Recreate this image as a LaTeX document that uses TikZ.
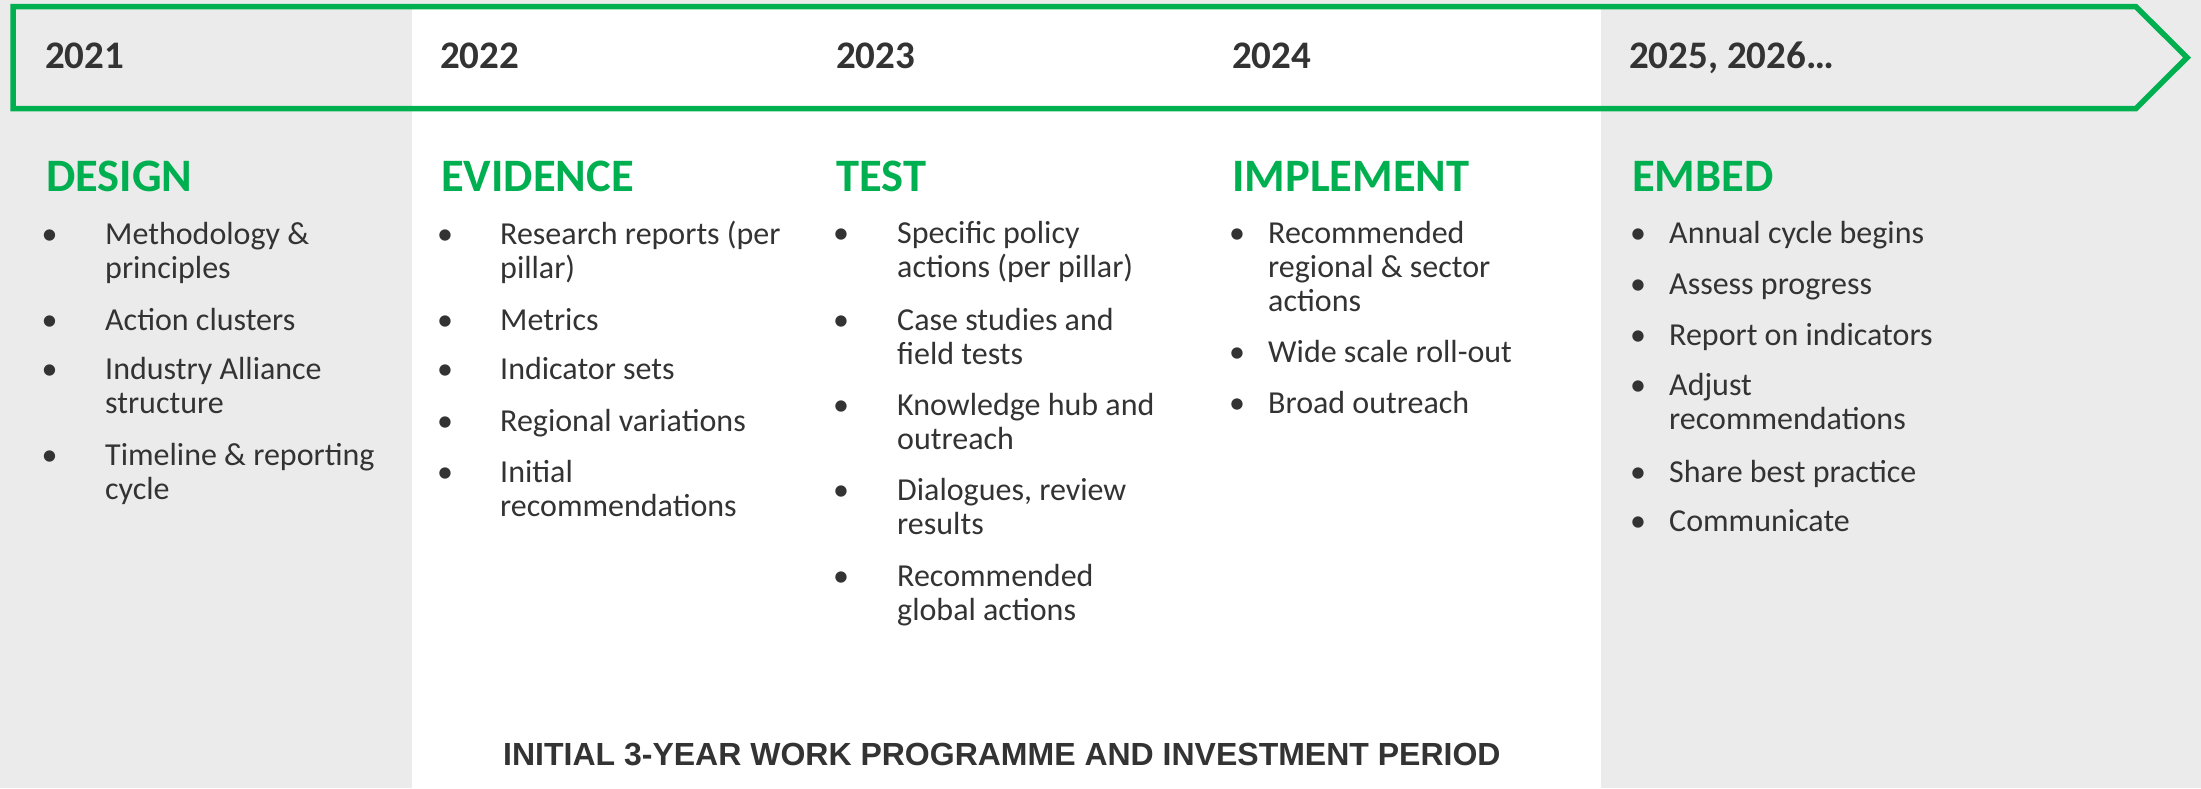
\documentclass[tikz,border=0pt]{standalone}
\usepackage{fontspec}
\setmainfont{Carlito}
\newfontfamily\arialfont{Liberation Sans}
\definecolor{grn}{HTML}{00B050}
\definecolor{txt}{HTML}{333333}
\definecolor{bgg}{HTML}{EBEBEB}
\begin{document}
\begin{tikzpicture}[x=1bp,y=-1bp,
  yearlbl/.style={anchor=base west, inner sep=0pt, text=txt, font=\fontsize{39bp}{42bp}\selectfont\bfseries},
  phasehead/.style={anchor=base west, inner sep=0pt, text=grn, font=\fontsize{46.5bp}{50bp}\selectfont\bfseries},
  bul/.style={anchor=base, inner sep=0pt, text=txt, font=\fontsize{32bp}{34bp}\selectfont},
  itm/.style={anchor=base west, inner sep=0pt, text=txt, align=left, font=\fontsize{32bp}{34bp}\selectfont},
  itmtwo/.style={itm, yshift=-34bp},
  itmthree/.style={itm, yshift=-68bp},
  footlbl/.style={anchor=base west, inner sep=0pt, text=txt, font=\fontsize{32bp}{34bp}\selectfont\arialfont\bfseries},
  frame/.style={draw=grn, line width=5.5bp, line join=miter}
]
\useasboundingbox (0,0) rectangle (2201,788);
\fill[bgg] (0,0) rectangle (2201,788);
\fill[white] (411.7,6.7) rectangle (1601,788);
\draw[frame] (13,6.7) -- (2136,6.7) -- (2187,57.6) -- (2136,108.5) -- (13,108.5) -- cycle;

% years
\node[yearlbl] (y1) at (45,69) {2021};
\node[yearlbl] (y2) at (440,69) {2022};
\node[yearlbl] (y3) at (836,69) {2023};
\node[yearlbl] (y4) at (1232,69) {2024};
\node[yearlbl] (y5) at (1629,69) {2025, 2026…};

% headings
\node[phasehead] (h1) at (46,191) {DESIGN};
\node[phasehead] (h2) at (441,191) {EVIDENCE};
\node[phasehead] (h3) at (836,191) {TEST};
\node[phasehead] (h4) at (1232,191) {IMPLEMENT};
\node[phasehead] (h5) at (1632,191) {EMBED};

% column 1
\node[bul] (b1a) at (49.5,244) {•};
\node[itmtwo] (t1a) at (105,244) {Methodology \&\\principles};
\node[bul] (b1b) at (49.5,330) {•};
\node[itm] (t1b) at (105,330) {Action clusters};
\node[bul] (b1c) at (49.5,379) {•};
\node[itmtwo] (t1c) at (105,379) {Industry Alliance\\structure};
\node[bul] (b1d) at (49.5,465) {•};
\node[itmtwo] (t1d) at (105,465) {Timeline \& reporting\\cycle};

% column 2
\node[bul] (b2a) at (445,244) {•};
\node[itmtwo] (t2a) at (500,244) {Research reports (per\\pillar)};
\node[bul] (b2b) at (445,330) {•};
\node[itm] (t2b) at (500,330) {Metrics};
\node[bul] (b2c) at (445,379) {•};
\node[itm] (t2c) at (500,379) {Indicator sets};
\node[bul] (b2d) at (445,431) {•};
\node[itm] (t2d) at (500,431) {Regional variations};
\node[bul] (b2e) at (445,482) {•};
\node[itmtwo] (t2e) at (500,482) {Initial\\recommendations};

% column 3
\node[bul] (b3a) at (841,243) {•};
\node[itmtwo] (t3a) at (897,243) {Specific policy\\actions (per pillar)};
\node[bul] (b3b) at (841,330) {•};
\node[itmtwo] (t3b) at (897,330) {Case studies and\\field tests};
\node[bul] (b3c) at (841,415) {•};
\node[itmtwo] (t3c) at (897,415) {Knowledge hub and\\outreach};
\node[bul] (b3d) at (841,500) {•};
\node[itmtwo] (t3d) at (897,500) {Dialogues, review\\results};
\node[bul] (b3e) at (841,586) {•};
\node[itmtwo] (t3e) at (897,586) {Recommended\\global actions};

% column 4
\node[bul] (b4a) at (1237,243) {•};
\node[itmthree] (t4a) at (1268,243) {Recommended\\regional \& sector\\actions};
\node[bul] (b4b) at (1237,362) {•};
\node[itm] (t4b) at (1268,362) {Wide scale roll-out};
\node[bul] (b4c) at (1237,413) {•};
\node[itm] (t4c) at (1268,413) {Broad outreach};

% column 5
\node[bul] (b5a) at (1638,243) {•};
\node[itm] (t5a) at (1669,243) {Annual cycle begins};
\node[bul] (b5b) at (1638,294) {•};
\node[itm] (t5b) at (1669,294) {Assess progress};
\node[bul] (b5c) at (1638,345) {•};
\node[itm] (t5c) at (1669,345) {Report on indicators};
\node[bul] (b5d) at (1638,395) {•};
\node[itmtwo] (t5d) at (1669,395) {Adjust\\recommendations};
\node[bul] (b5e) at (1638,482) {•};
\node[itm] (t5e) at (1669,482) {Share best practice};
\node[bul] (b5f) at (1638,531) {•};
\node[itm] (t5f) at (1669,531) {Communicate};

% footer
\node[footlbl] (foot) at (503,765) {INITIAL 3-YEAR WORK PROGRAMME AND INVESTMENT PERIOD};
\end{tikzpicture}
\end{document}
